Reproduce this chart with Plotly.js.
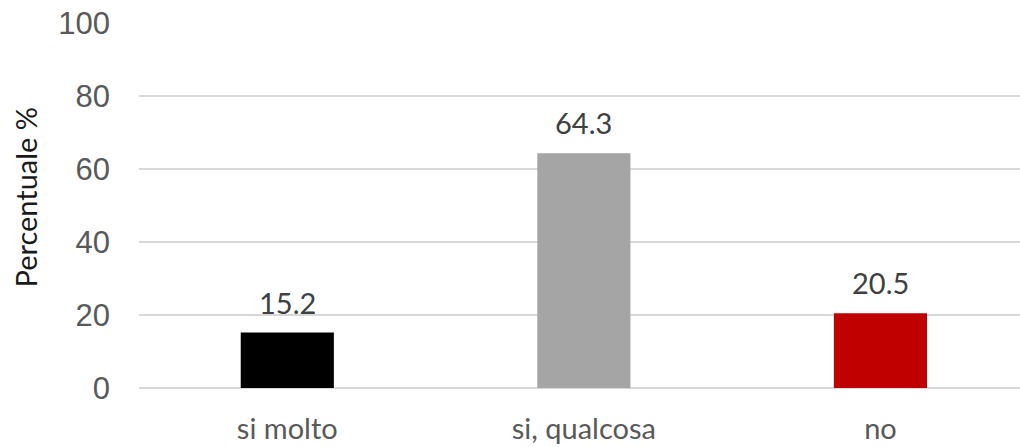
<!DOCTYPE html>
<html>
<head>
<meta charset="utf-8">
<script src="https://cdn.plot.ly/plotly-3.0.1.min.js"></script>
<style>html,body{margin:0;padding:0;background:#fff;}#chart{width:1020px;height:447px;}</style>
</head>
<body>
<div id="chart"></div>
<script>
const categories = ["si molto", "si, qualcosa", "no"];
const values = [15.2, 64.3, 20.5];
const barColors = ["#000000", "#a5a5a5", "#c00000"];
const yTicks = [0, 20, 40, 60, 80, 100];
const yTitle = "Percentuale %";

const trace = {
  type: "bar",
  x: categories,
  y: values,
  marker: {color: barColors},
  width: 0.314,
  hoverinfo: "none"
};

const annotations = categories.map((c, i) => ({
  x: c, y: values[i], xref: "x", yref: "y",
  text: values[i].toFixed(1),
  showarrow: false, yanchor: "bottom", yshift: 11,
  font: {family: "Lato, sans-serif", size: 29, color: "#404040"}
}));
annotations.push({
  xref: "paper", yref: "paper", x: 0, y: 0.5,
  xanchor: "center", yanchor: "middle",
  xshift: -114, yshift: 8,
  textangle: -90, showarrow: false,
  text: yTitle,
  font: {family: "Lato, sans-serif", size: 29, color: "#1a1a1a"}
});

const layout = {
  width: 1020, height: 447,
  margin: {l: 139, r: 0, t: 23, b: 59, pad: 0},
  paper_bgcolor: "#ffffff", plot_bgcolor: "#ffffff",
  showlegend: false,
  bargap: 0.686,
  font: {family: "Arial, sans-serif"},
  xaxis: {
    type: "category",
    range: [-0.5, 2.4705],
    showgrid: false, zeroline: false, showline: false,
    ticks: "", ticklabelstandoff: 21,
    tickfont: {family: "Lato, sans-serif", size: 29, color: "#595959"},
    fixedrange: true
  },
  yaxis: {
    range: [0, 100],
    tickvals: yTicks,
    ticktext: yTicks.map(String),
    showgrid: true, gridcolor: "#d9d9d9", gridwidth: 1.5,
    zeroline: true, zerolinecolor: "#d9d9d9", zerolinewidth: 1.5,
    showline: false, ticks: "",
    ticklabelstandoff: 28,
    tickfont: {family: "Arial, sans-serif", size: 31, color: "#595959"},
    automargin: false,
    fixedrange: true
  },
  annotations: annotations
};

Plotly.newPlot("chart", [trace], layout, {displayModeBar: false, staticPlot: true});
</script>
</body>
</html>
